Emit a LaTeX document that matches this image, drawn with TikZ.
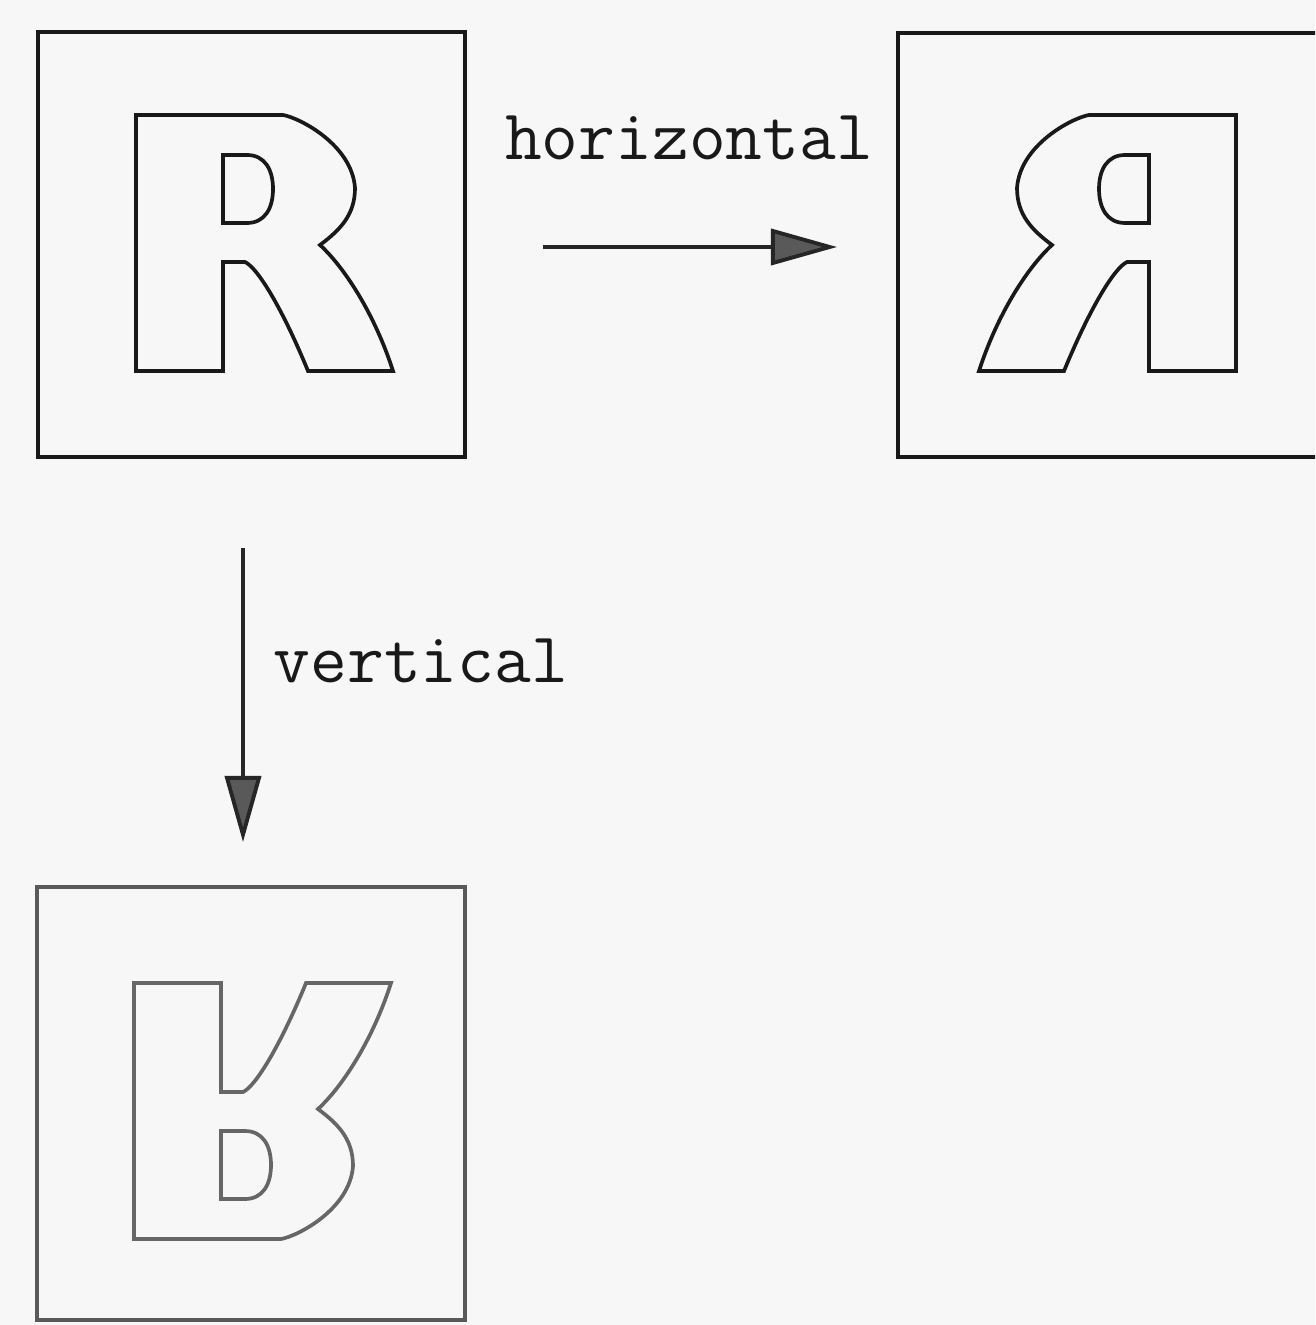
\documentclass[tikz,border=0pt]{standalone}
\usetikzlibrary{arrows.meta}
\begin{document}
\begin{tikzpicture}[x=0.01cm,y=-0.01cm,
  framebox/.style={draw=black!90,line width=1pt,inner sep=0pt,minimum width=4.27cm,minimum height=4.25cm},
  letterline/.style={draw=black!90,line width=1.05pt,line join=miter},
  arr/.style={draw=black!85,line width=1.1pt,-{Triangle[length=0.66cm,width=0.36cm,fill=black!65]}},
  lbl/.style={inner sep=0pt,font=\ttfamily\fontsize{20.3pt}{23pt}\selectfont,text=black!90}]
\useasboundingbox (0,0) rectangle (1315,1325);
\fill[black!3] (0,0) rectangle (1315,1325);
\clip (0,0) rectangle (1315,1325);
\newcommand\Rout{(136,371) -- (136,115) -- (283,115) .. controls (300,118) and (352,145) .. (355,188) .. controls (355,215) and (340,230) .. (320,245) .. controls (345,268) and (375,315) .. (393,371) -- (308,371) .. controls (283,310) and (258,268) .. (245,262) -- (223,262) -- (223,371) -- cycle}
\newcommand\Rin{(223,155) -- (247,155) .. controls (265,155) and (273,170) .. (273,189) .. controls (273,208) and (265,223) .. (247,223) -- (223,223) -- cycle}
% boxes
\node[framebox] (box1) at (251.5,244.5) {};
\node[framebox,minimum height=4.24cm] (box2) at (1111.5,245) {};
\node[framebox,draw=black!65,minimum width=4.28cm,minimum height=4.33cm] (box3) at (251,1103.5) {};
% letters
\draw[letterline] \Rout;
\draw[letterline] \Rin;
\begin{scope}[shift={(1372,0)},xscale=-1]
\draw[letterline] \Rout;
\draw[letterline] \Rin;
\end{scope}
\begin{scope}[shift={(-2,1354)},yscale=-1]
\draw[letterline,draw=black!60] \Rout;
\draw[letterline,draw=black!60] \Rin;
\end{scope}
% arrows
\coordinate (hs) at (543,247);
\coordinate (he) at (837,247);
\coordinate (vs) at (243,548);
\coordinate (ve) at (243,842);
\draw[arr] (hs) -- (he);
\draw[arr] (vs) -- (ve);
% labels
\node[lbl,anchor=base] (hlab) at (689,160) {horizontal};
\node[lbl,anchor=base west] (vlab) at (273,682) {vertical};
\end{tikzpicture}
\end{document}
